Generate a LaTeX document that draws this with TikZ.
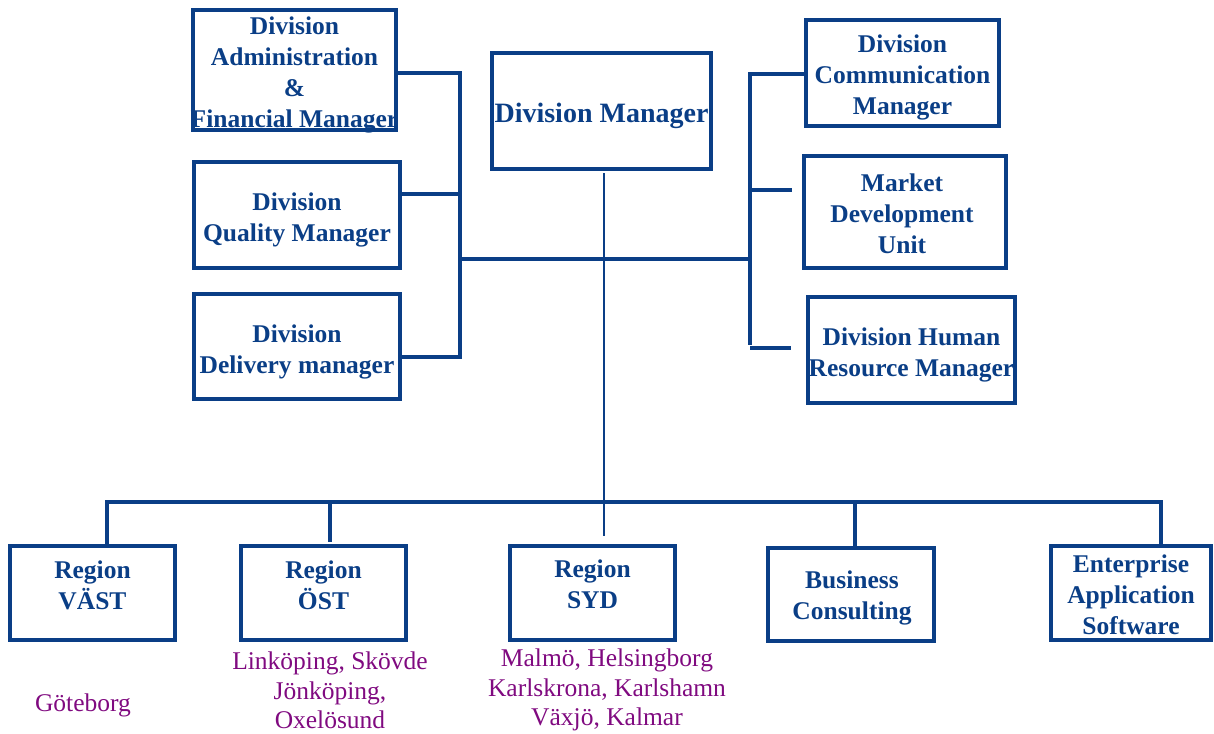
\documentclass[tikz,border=0pt]{standalone}
\usepackage{fontspec}
\setmainfont{Liberation Serif}
\definecolor{navy}{RGB}{10,62,134}
\definecolor{town}{RGB}{128,10,128}
\begin{document}
\begin{tikzpicture}[x=1pt,y=-1pt,
  box/.style={draw=navy,line width=4pt,rectangle,inner sep=0pt},
  lbl/.style={text=navy,font=\fontsize{25.5}{31}\selectfont\bfseries,align=center,inner sep=0pt},
  town/.style={text=town,font=\fontsize{25.5}{29.5}\selectfont,align=center,inner sep=0pt},
  conn/.style={draw=navy,line width=3.5pt},
  thin/.style={draw=navy,line width=2.6pt}]
\useasboundingbox (0,0) rectangle (1214,733);
% boxes
\node[box,minimum width=203pt,minimum height=120pt] (admin) at (294.5,70) {};
\node[box,minimum width=219pt,minimum height=116pt] (mgr) at (601.5,111) {};
\node[box,minimum width=206pt,minimum height=106pt] (quality) at (297,215) {};
\node[box,minimum width=206pt,minimum height=105pt] (delivery) at (297,346.5) {};
\node[box,minimum width=193pt,minimum height=106pt] (comm) at (902.5,73) {};
\node[box,minimum width=202pt,minimum height=112pt] (market) at (905,212) {};
\node[box,minimum width=207pt,minimum height=106pt] (hr) at (911.5,350) {};
\node[box,minimum width=165pt,minimum height=94pt] (vast) at (92.5,593) {};
\node[box,minimum width=165pt,minimum height=94pt] (ost) at (323.5,593) {};
\node[box,minimum width=165pt,minimum height=94pt] (syd) at (592.5,593) {};
\node[box,minimum width=166pt,minimum height=93pt] (bc) at (851,594.5) {};
\node[box,minimum width=160pt,minimum height=94pt] (eas) at (1131,593) {};
% texts
\node[lbl] (adminT) at (294.5,74.5) {Division\\Administration\\\&\\Financial Manager};
\node[lbl,font=\fontsize{28}{34}\selectfont\bfseries] (mgrT) at (601.5,116) {Division Manager};
\node[lbl] (qualityT) at (297,219.5) {Division\\Quality Manager};
\node[lbl] (deliveryT) at (297,351.5) {Division\\Delivery manager};
\node[lbl] (commT) at (902.5,77) {Division\\Communication\\Manager};
\node[lbl] (marketT) at (902,214) {Market\\Development\\Unit};
\node[lbl] (hrT) at (911.5,354.5) {Division Human\\Resource Manager};
\node[lbl] (vastT) at (92.5,585) {Region\\VÄST};
\node[lbl] (ostT) at (323.5,585) {Region\\ÖST};
\node[lbl] (sydT) at (592.5,584.5) {Region\\SYD};
\node[lbl] (bcT) at (852,597.5) {Business\\Consulting};
\node[lbl] (easT) at (1131,595) {Enterprise\\Application\\Software};
\node[town] (vastC) at (83,705) {Göteborg};
\node[town] (ostC) at (330,690.5) {Linköping, Skövde\\Jönköping,\\Oxelösund};
\node[town] (sydC) at (607,690) {Malmö, Helsingborg\\Karlskrona, Karlshamn\\Växjö, Kalmar};
% bus coordinates
\coordinate (LT) at (460,73);
\coordinate (LQ) at (460,194);
\coordinate (LM) at (460,259);
\coordinate (LB) at (460,357);
\coordinate (RT) at (750,74);
\coordinate (RK) at (750,190);
\coordinate (RM) at (750,259);
\coordinate (RB) at (750,345);
\coordinate (RH) at (750,348);
\coordinate (RKe) at (792,190);
\coordinate (RHe) at (791,348);
\coordinate (MV) at (604,173);
\coordinate (MB) at (604,536);
\coordinate (BL) at (107,502);
\coordinate (BO) at (330,502);
\coordinate (BC) at (855,502);
\coordinate (BR) at (1161,502);
\coordinate (OE) at (330,542);
% connectors
\draw[conn] (admin.east |- LT) -- (LT) -- (LB) -- (delivery.east |- LB);
\draw[conn] (LQ) -- (quality.east |- LQ);
\draw[conn] (LM) -- (RM);
\draw[conn] (comm.west |- RT) -- (RT) -- (RB);
\draw[conn] (RK) -- (RKe);
\draw[conn] (RH) -- (RHe);
\draw[thin] (MV) -- (MB);
\draw[conn] (vast.north -| BL) -- (BL) -- (BR) -- (eas.north -| BR);
\draw[conn] (BO) -- (OE);
\draw[conn] (BC) -- (bc.north -| BC);
\end{tikzpicture}
\end{document}
